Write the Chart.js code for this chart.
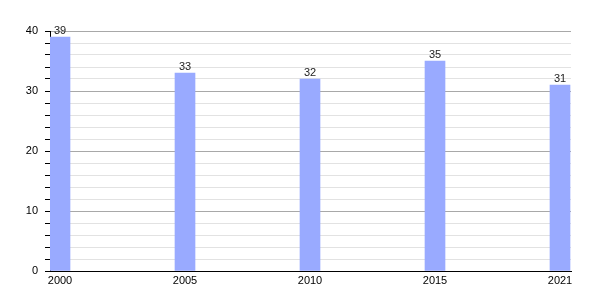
<!DOCTYPE html>
<html>
<head>
<meta charset="utf-8">
<script src="https://cdn.jsdelivr.net/npm/chart.js@4/dist/chart.umd.min.js"></script>
<style>
html,body{margin:0;padding:0;background:#fff;}
#wrap{width:600px;height:300px;position:relative;}
</style>
</head>
<body>
<div id="wrap"><canvas id="c" width="600" height="300"></canvas></div>
<script>
const categories = ["2000", "2005", "2010", "2015", "2021"];
const values = [39, 33, 32, 35, 31];
const yTicks = [0, 10, 20, 30, 40];

const FONT = "'Liberation Sans', Arial, sans-serif";

const valueLabels = {
  id: 'valueLabels',
  afterDatasetsDraw(chart) {
    const ctx = chart.ctx;
    const meta = chart.getDatasetMeta(0);
    ctx.save();
    ctx.font = "11px " + FONT;
    ctx.fillStyle = "#222";
    ctx.textAlign = "center";
    ctx.textBaseline = "alphabetic";
    meta.data.forEach((bar, i) => {
      ctx.fillText(String(values[i]), bar.x, bar.y - 3);
    });
    ctx.restore();
  }
};

new Chart(document.getElementById('c'), {
  type: 'bar',
  data: {
    datasets: [{
      data: categories.map((c, i) => ({x: i, y: values[i]})),
      backgroundColor: '#99aaff',
      borderWidth: 0,
      barThickness: 20
    }]
  },
  options: {
    responsive: false,
    animation: false,
    layout: {padding: {top: 31, right: 29, left: 0, bottom: 0}},
    plugins: {legend: {display: false}, tooltip: {enabled: false}},
    scales: {
      x: {
        type: 'linear',
        offset: false,
        min: -0.08,
        max: 4.088,
        afterBuildTicks: (axis) => { axis.ticks = categories.map((_, i) => ({value: i})); },
        afterFit: (s) => { s.height = 29; },
        grid: {display: false, drawTicks: false, offset: false},
        border: {display: true, color: '#000', width: 1},
        ticks: {
          color: '#000',
          font: {size: 11, family: FONT},
          padding: 3,
          autoSkip: false,
          maxRotation: 0,
          callback: (v) => categories[v] !== undefined ? categories[v] : ''
        }
      },
      y: {
        min: 0,
        max: 40,
        afterFit: (s) => { s.width = 50; },
        ticks: {
          stepSize: 2,
          color: '#000',
          font: {size: 11, family: FONT},
          padding: 7,
          autoSkip: false,
          callback: (v) => yTicks.includes(v) ? String(v) : ''
        },
        grid: {
          color: (ctx) => (ctx.tick && ctx.tick.value % 10 === 0) ? '#a8a8a8' : '#e2e2e2',
          tickColor: '#000',
          tickLength: 5,
          drawTicks: true
        },
        border: {display: true, color: '#000', width: 1}
      }
    }
  },
  plugins: [valueLabels]
});
</script>
</body>
</html>
